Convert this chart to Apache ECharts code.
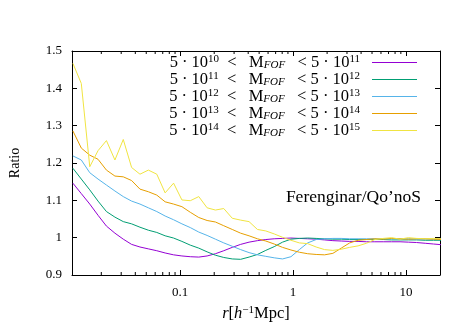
<!DOCTYPE html>
<html>
<head>
<meta charset="utf-8">
<script src="https://cdn.jsdelivr.net/npm/echarts@6/dist/echarts.min.js"></script>
<style>
  html, body { margin: 0; background: #fff; }
  #main { width: 471px; height: 330px; }
</style>
</head>
<body>
<div id="main"></div>
<script>
// radial bins (h^-1 Mpc)
const radius = [0.0112, 0.0133, 0.0158, 0.0187, 0.0222, 0.0264, 0.0313, 0.0371, 0.0440, 0.0522,
  0.0620, 0.0735, 0.0873, 0.1035, 0.1228, 0.146, 0.173, 0.205, 0.243, 0.289,
  0.343, 0.407, 0.483, 0.573, 0.680, 0.806, 0.957, 1.135, 1.346, 1.60,
  1.90, 2.25, 2.67, 3.17, 3.76, 4.46, 5.29, 6.28, 7.45, 8.85,
  10.5, 12.4, 14.8, 17.5, 20.8]

const ratio10 = [1.146, 1.118, 1.090, 1.060, 1.031, 1.012, 0.996, 0.982, 0.975, 0.970,
  0.965, 0.959, 0.954, 0.951, 0.949, 0.948, 0.951, 0.957, 0.965, 0.974,
  0.982, 0.988, 0.992, 0.995, 0.997, 0.998, 0.999, 0.998, 0.997, 0.996,
  0.994, 0.992, 0.991, 0.990, 0.990, 0.989, 0.989, 0.989, 0.989, 0.989,
  0.988, 0.987, 0.985, 0.983, 0.981]
const ratio11 = [1.186, 1.157, 1.128, 1.098, 1.070, 1.055, 1.043, 1.037, 1.028, 1.020,
  1.014, 1.005, 0.999, 0.990, 0.980, 0.972, 0.962, 0.953, 0.947, 0.943,
  0.942, 0.948, 0.955, 0.966, 0.976, 0.988, 0.996, 0.998, 0.999, 0.998,
  0.997, 0.996, 0.996, 0.995, 0.995, 0.995, 0.995, 0.995, 0.994, 0.994,
  0.994, 0.994, 0.993, 0.993, 0.993]
const ratio12 = [1.219, 1.208, 1.174, 1.157, 1.141, 1.125, 1.110, 1.098, 1.090, 1.080,
  1.070, 1.058, 1.048, 1.037, 1.027, 1.015, 1.006, 0.996, 0.986, 0.977,
  0.968, 0.960, 0.954, 0.950, 0.946, 0.943, 0.949, 0.968, 0.986, 0.995,
  0.997, 0.998, 0.998, 0.997, 0.997, 0.997, 0.997, 0.997, 0.997, 0.997,
  0.997, 0.996, 0.996, 0.996, 0.996]
const ratio13 = [1.286, 1.240, 1.221, 1.210, 1.181, 1.165, 1.163, 1.153, 1.130, 1.123,
  1.114, 1.096, 1.090, 1.083, 1.068, 1.054, 1.046, 1.042, 1.032, 1.022,
  1.012, 1.005, 0.997, 0.991, 0.983, 0.974, 0.967, 0.961, 0.957, 0.955,
  0.954, 0.958, 0.972, 0.986, 0.993, 0.995, 0.997, 0.996, 0.998, 0.997,
  0.996, 0.997, 0.997, 0.996, 0.995]
const ratio14 = [1.467, 1.413, 1.190, 1.233, 1.260, 1.208, 1.263, 1.188, 1.170, 1.181,
  1.170, 1.120, 1.146, 1.101, 1.099, 1.110, 1.080, 1.074, 1.078, 1.052,
  1.047, 1.043, 1.022, 1.018, 1.010, 1.001, 0.993, 0.986, 0.984, 0.975,
  0.968, 0.966, 0.969, 0.974, 0.978, 0.985, 0.995, 0.998, 1.000, 0.996,
  1.000, 0.998, 0.997, 0.998, 0.997]

const massExp = [[10, 11], [11, 12], [12, 13], [13, 14], [14, 15]]
const lineColors = ['#9400d3', '#009e73', '#56b4e9', '#e69f00', '#f0e442']
const minorTicks = [0.02, 0.03, 0.04, 0.05, 0.06, 0.07, 0.08, 0.09,
  0.2, 0.3, 0.4, 0.5, 0.6, 0.7, 0.8, 0.9,
  2, 3, 4, 5, 6, 7, 8, 9]

const allRatios = [ratio10, ratio11, ratio12, ratio13, ratio14]
const serif = 'Liberation Serif'

const names = massExp.map(e => 'bin' + e[0])
const lineSeries = allRatios.map((arr, k) => ({
  name: names[k],
  type: 'line',
  symbol: 'none',
  color: lineColors[k],
  lineStyle: { width: 1, color: lineColors[k] },
  data: arr.map((v, i) => [radius[i], v]),
  z: 3 + k
}))

// small log ticks on top and bottom frame
const minorSeries = {
  type: 'custom',
  silent: true,
  data: minorTicks.map(v => [v, 0.9]),
  renderItem(params, api) {
    const lo = api.coord([api.value(0), 0.9])
    const hi = api.coord([api.value(0), 1.5])
    const st = { stroke: '#000', lineWidth: 1 }
    return {
      type: 'group',
      children: [
        { type: 'line', shape: { x1: lo[0], y1: lo[1], x2: lo[0], y2: lo[1] - 3 }, style: st },
        { type: 'line', shape: { x1: hi[0], y1: hi[1], x2: hi[0], y2: hi[1] + 3 }, style: st }
      ]
    }
  },
  z: 10
}

function makeRich(size, lh) {
  const small = Math.round(size * 0.68)
  return {
    t: { fontFamily: serif, fontSize: size, lineHeight: lh, color: '#000', verticalAlign: 'middle' },
    it: { fontFamily: serif, fontSize: size, lineHeight: lh, fontStyle: 'italic', color: '#000', verticalAlign: 'middle' },
    sup: { fontFamily: serif, fontSize: small, lineHeight: small, color: '#000', verticalAlign: 'top' },
    sub: { fontFamily: serif, fontSize: small, lineHeight: small, fontStyle: 'italic', color: '#000', verticalAlign: 'bottom' }
  }
}

var myChart = echarts.init(document.getElementById('main'))
myChart.setOption({
  animation: false,
  grid: { left: 72, right: 31, top: 51, bottom: 55 },
  legend: {
    data: names,
    orient: 'vertical',
    right: 49,
    top: 49,
    align: 'right',
    icon: 'rect',
    itemWidth: 45,
    itemHeight: 1.2,
    itemGap: 0,
    formatter(name) {
      const e = massExp[names.indexOf(name)]
      return '{t|5 · 10}{sup|' + e[0] + '}{t|  <   M}{sub|FOF}{t|   < 5 · 10}{sup|' + e[1] + '}'
    },
    textStyle: { rich: makeRich(16.5, 17), padding: [0, 7, 0, 0] }
  },
  graphic: [{
    type: 'text',
    right: 50,
    top: 188,
    style: { text: 'Ferenginar/Qo’noS', font: '17.5px "Liberation Serif"', fill: '#000' }
  }],
  xAxis: [{
    type: 'log',
    min: 0.011,
    max: 20,
    name: '{it|r}{t|[}{it|h}{sup|−1}{t|Mpc]}',
    nameLocation: 'middle',
    nameGap: 30,
    nameTextStyle: { rich: makeRich(16.5, 18) },
    axisLine: { lineStyle: { color: '#000', width: 1 } },
    axisTick: { inside: true, length: 5, lineStyle: { color: '#000' } },
    axisLabel: { showMinLabel: false, showMaxLabel: false, fontFamily: serif, fontSize: 13, color: '#000', margin: 11 },
    splitLine: { show: false }
  }, {
    type: 'log',
    position: 'top',
    min: 0.011,
    max: 20,
    axisLine: { lineStyle: { color: '#000', width: 1 } },
    axisTick: { inside: true, length: 5, lineStyle: { color: '#000' } },
    axisLabel: { show: false },
    splitLine: { show: false }
  }],
  yAxis: [{
    type: 'value',
    min: 0.9,
    max: 1.5,
    interval: 0.1,
    name: 'Ratio',
    nameLocation: 'middle',
    nameGap: 50,
    nameTextStyle: { fontFamily: serif, fontSize: 14, color: '#000' },
    axisLine: { show: true, lineStyle: { color: '#000', width: 1 } },
    axisTick: { show: true, inside: true, length: 5, lineStyle: { color: '#000' } },
    axisLabel: { fontFamily: serif, fontSize: 13, color: '#000', margin: 10 },
    splitLine: { show: false }
  }, {
    type: 'value',
    position: 'right',
    min: 0.9,
    max: 1.5,
    interval: 0.1,
    axisLine: { show: true, lineStyle: { color: '#000', width: 1 } },
    axisTick: { show: true, inside: true, length: 5, lineStyle: { color: '#000' } },
    axisLabel: { show: false },
    splitLine: { show: false }
  }],
  series: lineSeries.concat([minorSeries])
})
</script>
</body>
</html>
